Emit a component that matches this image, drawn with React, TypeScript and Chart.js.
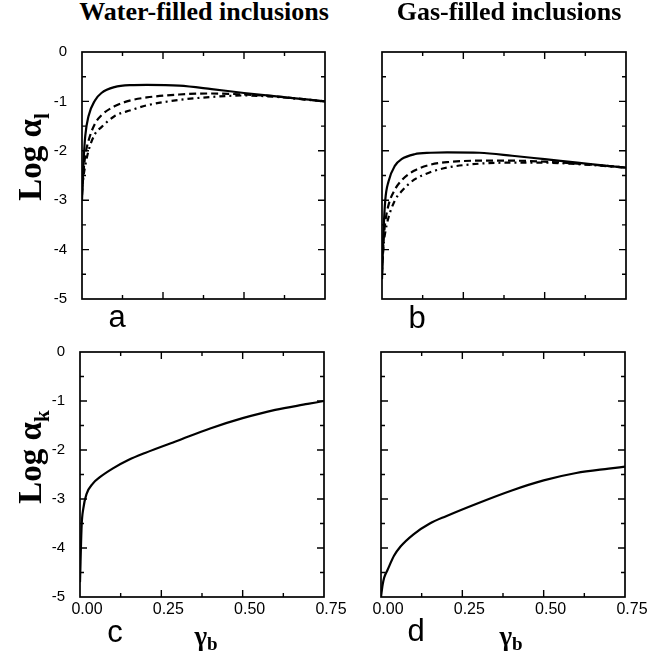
import React, { useEffect, useRef } from "react";
import { Chart, registerables } from "chart.js";

Chart.register(...registerables);

// ---------- data ----------
const gamma = [0, 0.005, 0.01, 0.02, 0.04, 0.06, 0.1, 0.15, 0.2, 0.3, 0.4, 0.5, 0.6, 0.7, 0.75];

// Water-filled, log alpha_l (three curves)
const waterL1 = [-3.0, -2.2, -1.7, -1.3, -0.98, -0.83, -0.71, -0.67, -0.665, -0.68, -0.75, -0.83, -0.9, -0.965, -1.0];
const waterL2 = [-2.9, -2.4, -2.1, -1.8, -1.45, -1.28, -1.1, -0.98, -0.92, -0.86, -0.84, -0.86, -0.9, -0.965, -1.0];
const waterL3 = [-2.8, -2.5, -2.3, -2.0, -1.66, -1.52, -1.3, -1.18, -1.08, -0.97, -0.91, -0.88, -0.91, -0.97, -1.0];

// Gas-filled, log alpha_l (three curves)
const gasL1 = [-4.6, -3.6, -3.0, -2.62, -2.3, -2.17, -2.07, -2.04, -2.03, -2.04, -2.1, -2.17, -2.24, -2.31, -2.34];
const gasL2 = [-4.5, -3.8, -3.45, -3.1, -2.78, -2.6, -2.4, -2.28, -2.23, -2.2, -2.2, -2.22, -2.26, -2.31, -2.34];
const gasL3 = [-4.4, -3.9, -3.65, -3.35, -3.0, -2.82, -2.58, -2.43, -2.34, -2.26, -2.24, -2.24, -2.27, -2.315, -2.34];

// log alpha_k
const waterK = [-4.7, -3.55, -3.2, -2.9, -2.68, -2.56, -2.38, -2.2, -2.06, -1.81, -1.56, -1.35, -1.18, -1.06, -1.0];
const gasK = [-5.0, -4.75, -4.6, -4.45, -4.16, -3.97, -3.72, -3.5, -3.35, -3.08, -2.83, -2.62, -2.47, -2.38, -2.34];

// ticks
const xTickValues = [0, 0.25, 0.5, 0.75];
const xMinorTicks = [0.125, 0.375, 0.625];
const yTickValues = [0, -1, -2, -3, -4, -5];
const yMinorTicks = [-0.5, -1.5, -2.5, -3.5, -4.5];

const titles = ["Water-filled inclusions", "Gas-filled inclusions"];
const panelLetters = ["a", "b", "c", "d"];

const fontSans = "'Liberation Sans', Arial, Helvetica, sans-serif";
const fontSerif = "'Liberation Serif', 'Times New Roman', Times, serif";

const SOLID: number[] = [];
const DASHED = [7, 4];
const DASHDOT = [6, 4, 2, 4];

const framePlugin = {
  id: "frameTicks",
  afterDatasetsDraw(chart: any) {
    const { ctx, chartArea: a, scales } = chart;
    const xs = scales.x;
    const ys = scales.y;
    ctx.save();
    ctx.strokeStyle = "#000";
    ctx.lineWidth = 1.7;
    ctx.strokeRect(a.left, a.top, a.right - a.left, a.bottom - a.top);
    ctx.lineWidth = 1.4;
    ctx.beginPath();
    const xt = (v: number, len: number) => {
      const p = xs.getPixelForValue(v);
      ctx.moveTo(p, a.bottom);
      ctx.lineTo(p, a.bottom - len);
      ctx.moveTo(p, a.top);
      ctx.lineTo(p, a.top + len);
    };
    const yt = (v: number, len: number) => {
      const p = ys.getPixelForValue(v);
      ctx.moveTo(a.left, p);
      ctx.lineTo(a.left + len, p);
      ctx.moveTo(a.right, p);
      ctx.lineTo(a.right - len, p);
    };
    xTickValues.slice(1, -1).forEach((v) => xt(v, 7));
    xMinorTicks.forEach((v) => xt(v, 4));
    yTickValues.slice(1, -1).forEach((v) => yt(v, 7));
    yMinorTicks.forEach((v) => yt(v, 4));
    ctx.stroke();
    ctx.restore();
  },
};

type Rect = { L: number; T: number; R: number; B: number };
type Series = { values: number[]; dash: number[] };

function Panel({ rect, series, showX, showY }: { rect: Rect; series: Series[]; showX: boolean; showY: boolean }) {
  const ref = useRef<HTMLCanvasElement>(null);
  const padL = 60, padT = 14, padR = 26, padB = 32;
  const w = rect.R - rect.L + padL + padR;
  const h = rect.B - rect.T + padT + padB;

  useEffect(() => {
    const chart = new Chart(ref.current as HTMLCanvasElement, {
      type: "line",
      data: {
        datasets: series.map((s) => ({
          data: gamma.map((g, i) => ({ x: g, y: s.values[i] })),
          borderColor: "#000",
          borderWidth: 2.2,
          borderDash: s.dash,
          pointRadius: 0,
          cubicInterpolationMode: "monotone" as const,
          fill: false,
        })),
      },
      options: {
        responsive: false,
        animation: false,
        events: [],
        layout: { padding: { left: 0, top: padT, right: padR, bottom: 0 } },
        plugins: { legend: { display: false }, tooltip: { enabled: false }, title: { display: false } },
        scales: {
          x: {
            type: "linear",
            min: 0,
            max: 0.75,
            grid: { display: false, drawTicks: false },
            border: { display: false },
            afterBuildTicks: (s: any) => {
              s.ticks = xTickValues.map((v) => ({ value: v }));
            },
            ticks: {
              display: showX,
              padding: 3,
              labelOffset: 7,
              maxRotation: 0,
              autoSkip: false,
              color: "#000",
              font: { family: fontSans, size: 16 },
              callback: (v: any) => Number(v).toFixed(2),
            },
            afterFit: (s: any) => {
              s.height = padB;
              s.paddingLeft = 0;
              s.paddingRight = 0;
            },
          },
          y: {
            type: "linear",
            min: -5,
            max: 0,
            grid: { display: false, drawTicks: false },
            border: { display: false },
            afterBuildTicks: (s: any) => {
              s.ticks = yTickValues.slice().reverse().map((v) => ({ value: v }));
            },
            ticks: {
              display: showY,
              padding: 15,
              autoSkip: false,
              color: "#000",
              font: { family: fontSans, size: 15 },
              callback: (v: any) => String(v),
            },
            afterFit: (s: any) => {
              s.width = padL;
              s.paddingTop = 0;
              s.paddingBottom = 0;
            },
          },
        },
      },
      plugins: [framePlugin],
    } as any);
    return () => chart.destroy();
  }, []);

  return (
    <canvas
      ref={ref}
      width={w}
      height={h}
      style={{ position: "absolute", left: rect.L - padL, top: rect.T - padT, width: w, height: h }}
    />
  );
}

function Text({ x, baseline, size, family, bold, ascent, children }: any) {
  return (
    <div
      style={{
        position: "absolute",
        left: x,
        top: baseline - ascent * size,
        transform: "translateX(-50%)",
        fontFamily: family,
        fontSize: size,
        fontWeight: bold ? "bold" : "normal",
        lineHeight: "normal",
        whiteSpace: "nowrap",
        color: "#000",
      }}
    >
      {children}
    </div>
  );
}

function YTitle({ cx, cy, sub }: { cx: number; cy: number; sub: string }) {
  return (
    <div
      style={{
        position: "absolute",
        left: cx,
        top: cy,
        transform: "translate(-50%, -50%) rotate(-90deg)",
        fontFamily: fontSerif,
        fontWeight: "bold",
        fontSize: 33,
        lineHeight: "normal",
        whiteSpace: "nowrap",
        color: "#000",
      }}
    >
      Log α<span style={{ fontSize: 21, position: "relative", top: 8 }}>{sub}</span>
    </div>
  );
}

function Gamma({ x, baseline }: { x: number; baseline: number }) {
  return (
    <Text x={x} baseline={baseline} size={27} family={fontSerif} bold ascent={0.891}>
      γ<span style={{ fontSize: 19, position: "relative", top: 5 }}>b</span>
    </Text>
  );
}

export default function App() {
  const rectA = { L: 82, T: 52, R: 325, B: 299 };
  const rectB = { L: 382, T: 52, R: 626, B: 299 };
  const rectC = { L: 80, T: 352, R: 324, B: 597 };
  const rectD = { L: 381, T: 352, R: 625, B: 597 };

  return (
    <div style={{ position: "absolute", left: 0, top: 0, width: 648, height: 658, background: "#fff", overflow: "hidden" }}>
      <Panel rect={rectA} showX={false} showY={true} series={[
        { values: waterL1, dash: SOLID },
        { values: waterL2, dash: DASHED },
        { values: waterL3, dash: DASHDOT },
      ]} />
      <Panel rect={rectB} showX={false} showY={false} series={[
        { values: gasL1, dash: SOLID },
        { values: gasL2, dash: DASHED },
        { values: gasL3, dash: DASHDOT },
      ]} />
      <Panel rect={rectC} showX={true} showY={true} series={[{ values: waterK, dash: SOLID }]} />
      <Panel rect={rectD} showX={true} showY={false} series={[{ values: gasK, dash: SOLID }]} />

      <Text x={204} baseline={20} size={26} family={fontSerif} bold ascent={0.891}>{titles[0]}</Text>
      <Text x={509} baseline={20} size={26} family={fontSerif} bold ascent={0.891}>{titles[1]}</Text>

      <YTitle cx={30} cy={157} sub="l" />
      <YTitle cx={30} cy={457} sub="k" />

      <Text x={117} baseline={327} size={31} family={fontSans} ascent={0.905}>{panelLetters[0]}</Text>
      <Text x={417} baseline={328} size={31} family={fontSans} ascent={0.905}>{panelLetters[1]}</Text>
      <Text x={115} baseline={642} size={31} family={fontSans} ascent={0.905}>{panelLetters[2]}</Text>
      <Text x={416} baseline={641} size={31} family={fontSans} ascent={0.905}>{panelLetters[3]}</Text>

      <Gamma x={206} baseline={645} />
      <Gamma x={511} baseline={645} />
    </div>
  );
}
